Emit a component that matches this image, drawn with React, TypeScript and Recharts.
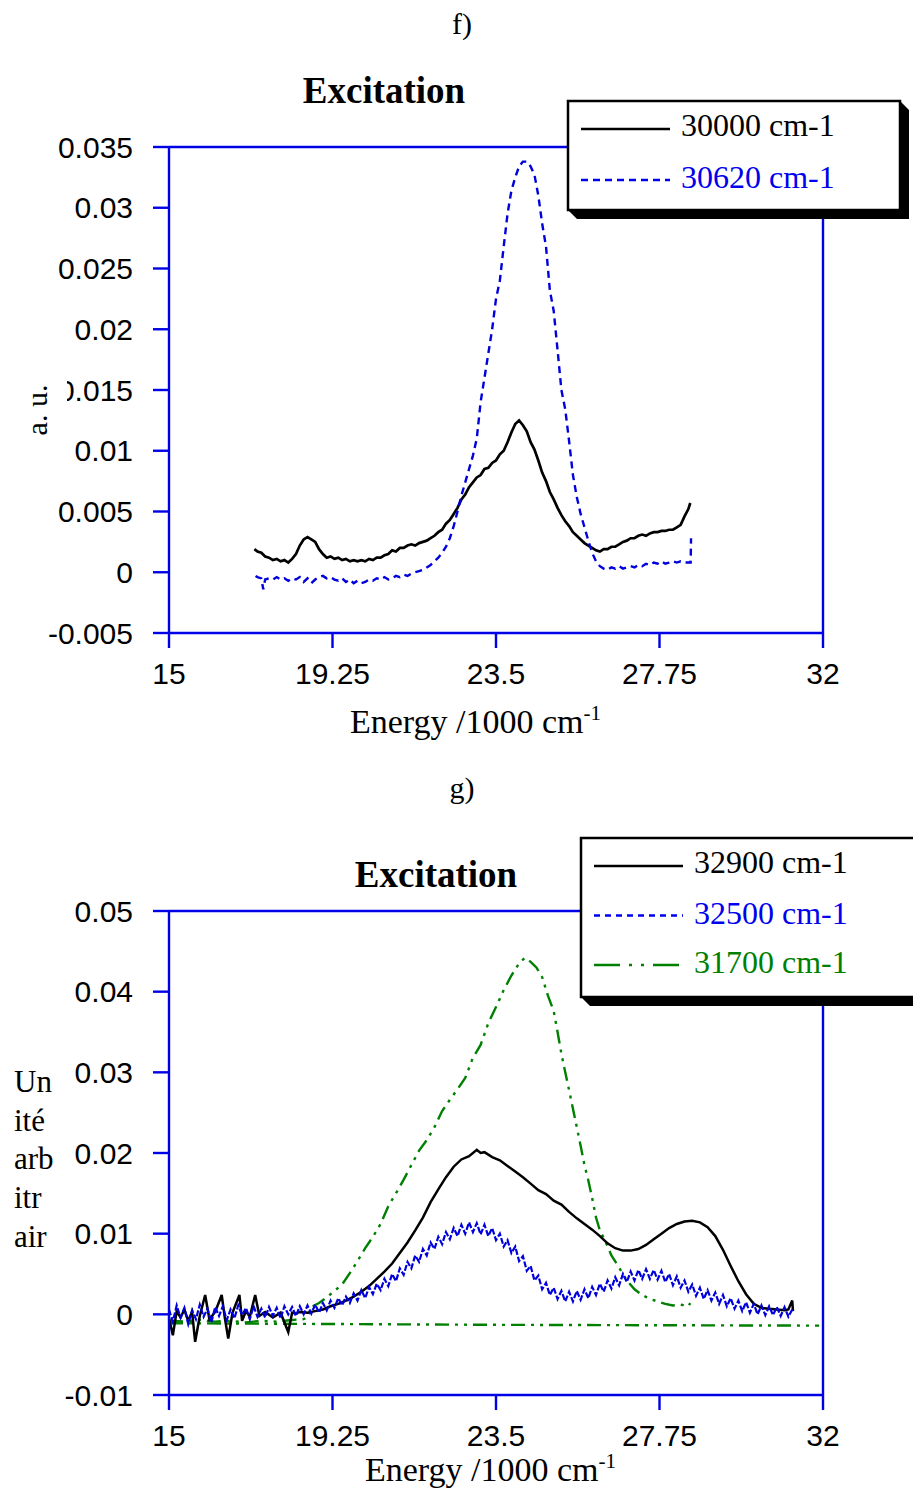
import { LineChart, Line, XAxis, YAxis, Legend } from 'recharts';

// energy axis, 1000 cm-1
const energyTicks = [15, 19.25, 23.5, 27.75, 32];
const fTicks = [-0.005, 0, 0.005, 0.01, 0.015, 0.02, 0.025, 0.03, 0.035];
const gTicks = [-0.01, 0, 0.01, 0.02, 0.03, 0.04, 0.05];

const fNames = ['30000 cm-1', '30620 cm-1'];
const gNames = ['32900 cm-1', '32500 cm-1', '31700 cm-1'];

// panel f) 30000 cm-1
const f30000E = [
  17.22, 17.3, 17.4, 17.5, 17.6, 17.7, 17.8, 17.9, 18.0, 18.1, 18.2, 18.3, 18.4, 18.5, 18.6, 18.7, 18.8, 18.9,
  19.0, 19.1, 19.2, 19.3, 19.4, 19.5, 19.6, 19.7, 19.8, 19.9, 20.0, 20.1, 20.2, 20.3, 20.4, 20.5, 20.6, 20.7,
  20.8, 20.9, 21.0, 21.1, 21.2, 21.3, 21.4, 21.5, 21.6, 21.7, 21.8, 21.9, 22.0, 22.1, 22.2, 22.3, 22.4, 22.5,
  22.6, 22.7, 22.8, 22.9, 23.0, 23.1, 23.2, 23.3, 23.4, 23.5, 23.6, 23.7, 23.8, 23.9, 24.0, 24.1, 24.2, 24.3,
  24.4, 24.5, 24.6, 24.7, 24.8, 24.9, 25.0, 25.1, 25.2, 25.3, 25.4, 25.5, 25.6, 25.7, 25.8, 25.9, 26.0, 26.1,
  26.2, 26.3, 26.4, 26.5, 26.6, 26.7, 26.8, 26.9, 27.0, 27.1, 27.2, 27.3, 27.4, 27.5, 27.6, 27.7, 27.8, 27.9,
  28.0, 28.1, 28.2, 28.3, 28.4, 28.5, 28.55,
];
const f30000V = [
  0.0019, 0.0017, 0.0016, 0.0013, 0.0012, 0.0010, 0.0011, 0.0009, 0.0010, 0.0008, 0.0011, 0.0015, 0.0022, 0.0027, 0.0029, 0.0027, 0.0025, 0.0019,
  0.0015, 0.0012, 0.0013, 0.0011, 0.0012, 0.0010, 0.0011, 0.0009, 0.0010, 0.0009, 0.0010, 0.0009, 0.0011, 0.0010, 0.0012, 0.0012, 0.0014, 0.0015,
  0.0018, 0.0017, 0.0020, 0.0020, 0.0022, 0.0023, 0.0022, 0.0024, 0.0025, 0.0026, 0.0028, 0.0030, 0.0033, 0.0035, 0.0040, 0.0043, 0.0048, 0.0053,
  0.0060, 0.0064, 0.0070, 0.0074, 0.0078, 0.0080, 0.0085, 0.0086, 0.0090, 0.0092, 0.0097, 0.0100, 0.0107, 0.0115, 0.0122, 0.0125, 0.0121, 0.0116,
  0.0107, 0.0101, 0.0092, 0.0082, 0.0075, 0.0066, 0.0060, 0.0053, 0.0047, 0.0042, 0.0038, 0.0033, 0.0030, 0.0027, 0.0024, 0.0022, 0.0020, 0.0018,
  0.0017, 0.0019, 0.0019, 0.0021, 0.0021, 0.0023, 0.0025, 0.0026, 0.0028, 0.0028, 0.0030, 0.0031, 0.0030, 0.0032, 0.0033, 0.0033, 0.0034, 0.0034,
  0.0035, 0.0035, 0.0037, 0.0039, 0.0046, 0.0052, 0.0057,
];

// panel f) 30620 cm-1
const f30620E = [
  17.25, 17.3, 17.4, 17.45, 17.5, 17.6, 17.7, 17.8, 17.9, 18.0, 18.1, 18.2, 18.3, 18.4, 18.5, 18.6, 18.7, 18.8,
  18.9, 19.0, 19.1, 19.2, 19.3, 19.4, 19.5, 19.6, 19.7, 19.8, 19.9, 20.0, 20.1, 20.2, 20.3, 20.4, 20.5, 20.6,
  20.7, 20.8, 20.9, 21.0, 21.1, 21.2, 21.3, 21.4, 21.5, 21.6, 21.7, 21.8, 21.9, 22.0, 22.1, 22.2, 22.3, 22.4,
  22.5, 22.6, 22.7, 22.8, 22.9, 23.0, 23.1, 23.2, 23.3, 23.4, 23.5, 23.6, 23.7, 23.8, 23.9, 24.0, 24.1, 24.2,
  24.3, 24.4, 24.5, 24.6, 24.7, 24.8, 24.9, 25.0, 25.1, 25.2, 25.3, 25.4, 25.5, 25.6, 25.7, 25.8, 25.9, 26.0,
  26.1, 26.2, 26.3, 26.4, 26.5, 26.6, 26.7, 26.8, 26.9, 27.0, 27.1, 27.2, 27.3, 27.4, 27.5, 27.6, 27.7, 27.8,
  27.9, 28.0, 28.1, 28.2, 28.3, 28.4, 28.5, 28.56, 28.57,
];
const f30620V = [
  -0.0003, -0.0004, -0.0005, -0.0014, -0.0006, -0.0005, -0.0006, -0.0004, -0.0006, -0.0005, -0.0007, -0.0005, -0.0006, -0.0004, -0.0008, -0.0005, -0.0009, -0.0006,
  -0.0004, -0.0003, -0.0005, -0.0004, -0.0006, -0.0007, -0.0005, -0.0008, -0.0006, -0.0009, -0.0007, -0.0009, -0.0008, -0.0006, -0.0007, -0.0005, -0.0006, -0.0004,
  -0.0006, -0.0005, -0.0003, -0.0004, -0.0002, -0.0003, -0.0001, 0.0000, 0.0001, 0.0002, 0.0004, 0.0006, 0.0009, 0.0012, 0.0016, 0.0021, 0.0028, 0.0038,
  0.0050, 0.0063, 0.0074, 0.0085, 0.0096, 0.0110, 0.0140, 0.0160, 0.0180, 0.0200, 0.0225, 0.0240, 0.0268, 0.0295, 0.0314, 0.0325, 0.0334, 0.0338,
  0.0338, 0.0334, 0.0327, 0.0310, 0.0287, 0.0268, 0.0232, 0.0215, 0.0183, 0.0150, 0.0134, 0.0108, 0.0080, 0.0062, 0.0048, 0.0037, 0.0026, 0.0016,
  0.0009, 0.0005, 0.0003, 0.0002, 0.0004, 0.0003, 0.0005, 0.0003, 0.0004, 0.0005, 0.0004, 0.0006, 0.0005, 0.0007, 0.0006, 0.0008, 0.0007, 0.0009,
  0.0007, 0.0008, 0.0009, 0.0008, 0.0009, 0.0008, 0.0008, 0.0008, 0.0028,
];

// panel g) 32900 cm-1
const g32900E = [
  15.0, 15.1, 15.2, 15.3, 15.4, 15.5, 15.6, 15.68, 15.8, 15.94, 16.05, 16.2, 16.37, 16.45, 16.54, 16.65, 16.83, 16.9,
  17.0, 17.1, 17.24, 17.35, 17.5, 17.7, 17.9, 18.1, 18.2, 18.3, 18.4, 18.6, 18.8, 19.0, 19.2, 19.4, 19.6, 19.8,
  20.0, 20.2, 20.4, 20.6, 20.8, 21.0, 21.2, 21.4, 21.6, 21.8, 22.0, 22.2, 22.4, 22.6, 22.8, 23.0, 23.1, 23.2,
  23.4, 23.6, 23.8, 24.0, 24.2, 24.4, 24.6, 24.8, 25.0, 25.2, 25.4, 25.6, 25.8, 26.0, 26.2, 26.4, 26.6, 26.8,
  27.0, 27.2, 27.4, 27.6, 27.8, 28.0, 28.2, 28.4, 28.6, 28.8, 29.0, 29.2, 29.4, 29.6, 29.8, 30.0, 30.2, 30.4,
  30.6, 30.8, 31.0, 31.1, 31.2, 31.22,
];
const g32900V = [
  -0.0005, -0.0026, 0.0004, -0.0004, 0.0006, -0.0008, 0.0003, -0.0034, -0.0002, 0.0024, -0.0006, 0.0003, 0.0024, -0.0004, -0.0030, 0.0002, 0.0024, -0.0008,
  0.0004, -0.0003, 0.0024, -0.0002, 0.0003, -0.0004, 0.0002, -0.0022, 0.0002, 0.0001, 0.0003, 0.0002, 0.0004, 0.0006, 0.0010, 0.0013, 0.0017, 0.0022,
  0.0028, 0.0035, 0.0044, 0.0053, 0.0063, 0.0076, 0.0089, 0.0104, 0.0120, 0.0139, 0.0155, 0.0170, 0.0183, 0.0192, 0.0196, 0.0204, 0.0200, 0.0201,
  0.0195, 0.0191, 0.0184, 0.0177, 0.0170, 0.0162, 0.0154, 0.0149, 0.0141, 0.0136, 0.0127, 0.0119, 0.0112, 0.0105, 0.0097, 0.0088, 0.0082, 0.0079,
  0.0079, 0.0081, 0.0086, 0.0093, 0.0100, 0.0107, 0.0112, 0.0115, 0.0116, 0.0114, 0.0108, 0.0097, 0.0080, 0.0060, 0.0041, 0.0025, 0.0013, 0.0008,
  0.0007, 0.0006, 0.0005, 0.0006, 0.0017, 0.0004,
];

// panel g) 32500 cm-1
const g32500E = [
  15.0, 15.1, 15.2, 15.3, 15.4, 15.5, 15.6, 15.7, 15.8, 15.9, 16.0, 16.1, 16.2, 16.3, 16.4, 16.5, 16.6, 16.7,
  16.8, 16.9, 17.0, 17.1, 17.2, 17.3, 17.4, 17.5, 17.6, 17.7, 17.8, 17.9, 18.0, 18.1, 18.2, 18.3, 18.4, 18.5,
  18.6, 18.7, 18.8, 18.9, 19.0, 19.1, 19.2, 19.3, 19.4, 19.5, 19.6, 19.7, 19.8, 19.9, 20.0, 20.1, 20.2, 20.3,
  20.4, 20.5, 20.6, 20.7, 20.8, 20.9, 21.0, 21.1, 21.2, 21.3, 21.4, 21.5, 21.6, 21.7, 21.8, 21.9, 22.0, 22.1,
  22.2, 22.3, 22.4, 22.5, 22.6, 22.7, 22.8, 22.9, 23.0, 23.1, 23.2, 23.3, 23.4, 23.5, 23.6, 23.7, 23.8, 23.9,
  24.0, 24.1, 24.2, 24.3, 24.4, 24.5, 24.6, 24.7, 24.8, 24.9, 25.0, 25.1, 25.2, 25.3, 25.4, 25.5, 25.6, 25.7,
  25.8, 25.9, 26.0, 26.1, 26.2, 26.3, 26.4, 26.5, 26.6, 26.7, 26.8, 26.9, 27.0, 27.1, 27.2, 27.3, 27.4, 27.5,
  27.6, 27.7, 27.8, 27.9, 28.0, 28.1, 28.2, 28.3, 28.4, 28.5, 28.6, 28.7, 28.8, 28.9, 29.0, 29.1, 29.2, 29.3,
  29.4, 29.5, 29.6, 29.7, 29.8, 29.9, 30.0, 30.1, 30.2, 30.3, 30.4, 30.5, 30.6, 30.7, 30.8, 30.9, 31.0, 31.1,
  31.2,
];
const g32500V = [
  0.0006, -0.0009, 0.0011, -0.0004, 0.0008, -0.0012, 0.0005, -0.0006, 0.0012, -0.0003, 0.0007, -0.0010, 0.0009, -0.0002, 0.0010, -0.0007, 0.0006, -0.0005,
  0.0011, -0.0001, 0.0008, -0.0006, 0.0010, -0.0003, 0.0007, -0.0004, 0.0009, -0.0002, 0.0008, -0.0005, 0.0010, 0.0000, 0.0009, -0.0002, 0.0010, 0.0000,
  0.0011, 0.0001, 0.0012, 0.0002, 0.0014, 0.0005, 0.0017, 0.0008, 0.0020, 0.0011, 0.0022, 0.0014, 0.0026, 0.0017, 0.0030, 0.0020, 0.0034, 0.0025,
  0.0038, 0.0030, 0.0044, 0.0035, 0.0050, 0.0041, 0.0057, 0.0049, 0.0065, 0.0057, 0.0073, 0.0065, 0.0081, 0.0073, 0.0089, 0.0081, 0.0096, 0.0087,
  0.0102, 0.0093, 0.0107, 0.0097, 0.0111, 0.0100, 0.0114, 0.0102, 0.0113, 0.0099, 0.0111, 0.0097, 0.0107, 0.0092, 0.0100, 0.0084, 0.0092, 0.0076,
  0.0084, 0.0066, 0.0072, 0.0054, 0.0060, 0.0042, 0.0048, 0.0031, 0.0039, 0.0024, 0.0033, 0.0019, 0.0029, 0.0016, 0.0028, 0.0016, 0.0029, 0.0018,
  0.0031, 0.0020, 0.0034, 0.0024, 0.0038, 0.0028, 0.0042, 0.0032, 0.0046, 0.0036, 0.0050, 0.0040, 0.0053, 0.0042, 0.0055, 0.0044, 0.0056, 0.0044,
  0.0055, 0.0043, 0.0054, 0.0040, 0.0050, 0.0036, 0.0047, 0.0033, 0.0042, 0.0028, 0.0037, 0.0023, 0.0033, 0.0019, 0.0030, 0.0017, 0.0027, 0.0013,
  0.0024, 0.0010, 0.0020, 0.0007, 0.0017, 0.0004, 0.0015, 0.0002, 0.0013, 0.0000, 0.0011, -0.0001, 0.0010, -0.0001, 0.0009, -0.0002, 0.0009, -0.0003,
  0.0006,
];

// panel g) 31700 cm-1
const g31700E = [
  15.0, 15.4, 15.8, 16.2, 16.6, 17.0, 17.4, 17.8, 18.2, 18.5, 18.6, 18.7, 18.9, 19.1, 19.3, 19.5, 19.7, 19.9,
  20.1, 20.3, 20.5, 20.7, 20.9, 21.1, 21.3, 21.5, 21.7, 21.9, 22.1, 22.3, 22.5, 22.7, 22.9, 23.1, 23.3, 23.5,
  23.7, 23.9, 24.1, 24.25, 24.4, 24.55, 24.7, 24.85, 25.0, 25.1, 25.2, 25.3, 25.4, 25.5, 25.6, 25.7, 25.8, 25.9,
  26.0, 26.1, 26.2, 26.35, 26.5, 26.7, 26.9, 27.1, 27.3, 27.5, 27.7, 27.9, 28.1, 28.3, 28.5, 28.55,
];
const g31700V = [
  -0.0008, -0.0009, -0.0007, -0.0009, -0.0008, -0.0010, -0.0008, -0.0009, -0.0007, -0.0006, -0.0004, 0.0009, 0.0014, 0.0021, 0.0029, 0.0037, 0.0051, 0.0066,
  0.0082, 0.0096, 0.0112, 0.0134, 0.0150, 0.0167, 0.0185, 0.0203, 0.0216, 0.0232, 0.0252, 0.0266, 0.0279, 0.0293, 0.0318, 0.0334, 0.0361, 0.0381,
  0.0402, 0.0420, 0.0435, 0.0442, 0.0437, 0.0430, 0.0418, 0.0395, 0.0376, 0.0350, 0.0323, 0.0300, 0.0278, 0.0255, 0.0232, 0.0209, 0.0185, 0.0166,
  0.0144, 0.0120, 0.0104, 0.0090, 0.0073, 0.0058, 0.0042, 0.0031, 0.0024, 0.0019, 0.0016, 0.0013, 0.0011, 0.0012, 0.0010, 0.0014,
];
const g31700BaseE = [15.0, 23.5, 31.9];
const g31700BaseV = [-0.0011, -0.0013, -0.0014];

const pts = (e: number[], v: number[]) => e.map((x, i) => ({ x, y: v[i] }));

const AXIS = '#0000e6';
const BLUE = '#0000dd';
const GREEN = '#008000';
const SANS = "'Liberation Sans', Arial, sans-serif";
const SERIF = "'Liberation Serif', 'Times New Roman', serif";

const axisStyle = { stroke: AXIS, strokeWidth: 2.4 };
const tickText = { fill: '#000', fontSize: 30, fontFamily: SANS };
const blank = () => '';

function frameAxes(yTicks: number[], yDomain: [number, number]) {
  return [
    <XAxis key="xb" xAxisId="b" type="number" dataKey="x" domain={[15, 32]} ticks={energyTicks} interval={0}
      height={60} tickSize={15} tickMargin={15} axisLine={axisStyle} tickLine={axisStyle} tick={tickText} />,
    <XAxis key="xt" xAxisId="t" orientation="top" type="number" dataKey="x" domain={[15, 32]} ticks={energyTicks}
      interval={0} height={20} tickSize={16} axisLine={axisStyle} tickLine={axisStyle} tickFormatter={blank} />,
    <YAxis key="yl" yAxisId="l" type="number" dataKey="y" domain={yDomain} ticks={yTicks} interval={0}
      width={60} tickSize={16} tickMargin={20} axisLine={axisStyle} tickLine={axisStyle} tick={tickText} />,
    <YAxis key="yr" yAxisId="r" orientation="right" type="number" dataKey="y" domain={yDomain} ticks={yTicks}
      interval={0} width={20} tickSize={16} axisLine={axisStyle} tickLine={axisStyle} tickFormatter={blank} />,
  ];
}

type Entry = { name: string; color: string; dash?: string };

function legendBox(entries: Entry[], w: number, h: number, rowGap: number) {
  return () => (
    <svg width={w + 12} height={h + 12} style={{ display: 'block', overflow: 'visible' }}>
      <polygon points={`${w},1 ${w + 9},10 ${w + 9},${h + 9} 10,${h + 9} 1,${h}`} fill="#000" />
      <rect x={1} y={1} width={w - 1} height={h - 1} fill="#fff" stroke="#000" strokeWidth={2.5} />
      {entries.map((e, i) => (
        <g key={e.name}>
          <line x1={14} x2={103} y1={29 + i * rowGap} y2={29 + i * rowGap} stroke={e.color} strokeWidth={2.6}
            strokeDasharray={e.dash} />
          <text x={114} y={36 + i * rowGap + (i > 0 ? 1 : 0)} fill={e.color} fontSize={32} fontFamily={SERIF}>
            {e.name}
          </text>
        </g>
      ))}
    </svg>
  );
}

const fLegend: Entry[] = [
  { name: fNames[0], color: '#000' },
  { name: fNames[1], color: '#0000ee', dash: '7 5' },
];
const gLegend: Entry[] = [
  { name: gNames[0], color: '#000' },
  { name: gNames[1], color: '#0000ee', dash: '6 5' },
  { name: gNames[2], color: GREEN, dash: '26 9 3 9 3 9' },
];

export default function App() {
  return (
    <div style={{ position: 'absolute', left: 0, top: 0, width: 913, height: 1495, overflow: 'hidden', background: '#fff' }}>
      <div style={{ position: 'absolute', left: 0, top: 0 }}>
        <LineChart width={913} height={760} margin={{ top: 127, right: 70, bottom: 67, left: 109 }}>
          {frameAxes(fTicks, [-0.005, 0.035])}
          <Line xAxisId="b" yAxisId="l" data={pts(f30000E, f30000V)} dataKey="y" type="linear" stroke="#000"
            strokeWidth={2.7} dot={false} activeDot={false} isAnimationActive={false} />
          <Line xAxisId="b" yAxisId="l" data={pts(f30620E, f30620V)} dataKey="y" type="linear" stroke={BLUE}
            strokeWidth={2.4} strokeDasharray="7 5" dot={false} activeDot={false} isAnimationActive={false} />
          <Legend layout="horizontal" verticalAlign="middle" align="center" content={legendBox(fLegend, 333, 110, 51)}
            wrapperStyle={{ position: 'absolute', left: 567, top: 100, width: 345, height: 122 }} />
        </LineChart>
      </div>
      <div style={{ position: 'absolute', left: 0, top: 760 }}>
        <LineChart width={913} height={735} margin={{ top: 131, right: 70, bottom: 40, left: 109 }}>
          {frameAxes(gTicks, [-0.01, 0.05])}
          <Line xAxisId="b" yAxisId="l" data={pts(g31700BaseE, g31700BaseV)} dataKey="y" type="linear" stroke={GREEN}
            strokeWidth={2.4} strokeDasharray="14 6 3 6 3 6" dot={false} activeDot={false} isAnimationActive={false} />
          <Line xAxisId="b" yAxisId="l" data={pts(g31700E, g31700V)} dataKey="y" type="linear" stroke={GREEN}
            strokeWidth={2.4} strokeDasharray="14 6 3 6 3 6" dot={false} activeDot={false} isAnimationActive={false} />
          <Line xAxisId="b" yAxisId="l" data={pts(g32900E, g32900V)} dataKey="y" type="linear" stroke="#000"
            strokeWidth={2.5} dot={false} activeDot={false} isAnimationActive={false} />
          <Line xAxisId="b" yAxisId="l" data={pts(g32500E, g32500V)} dataKey="y" type="linear" stroke={BLUE}
            strokeWidth={2.2} strokeDasharray="6 2" dot={false} activeDot={false} isAnimationActive={false} />
          <Legend layout="horizontal" verticalAlign="middle" align="center" content={legendBox(gLegend, 345, 160, 49.5)}
            wrapperStyle={{ position: 'absolute', left: 580, top: 77, width: 360, height: 172 }} />
        </LineChart>
      </div>
      <svg width={913} height={1495} style={{ position: 'absolute', left: 0, top: 0, pointerEvents: 'none' }}>
        <text x={462} y={34} textAnchor="middle" fontSize={30} fontFamily={SERIF}>f)</text>
        <text x={384} y={103} textAnchor="middle" fontSize={37} fontWeight="bold" fontFamily={SERIF}>Excitation</text>
        <rect x={20} y={376} width={47} height={66} fill="#fff" />
        <text transform="translate(47,410) rotate(-90)" textAnchor="middle" fontSize={30} fontFamily={SERIF}>a. u.</text>
        <text x={350} y={733} fontSize={34} fontFamily={SERIF}>
          Energy /1000 cm<tspan dy={-13} fontSize={21}>-1</tspan>
        </text>

        <text x={462} y={798} textAnchor="middle" fontSize={30} fontFamily={SERIF}>g)</text>
        <text x={436} y={887} textAnchor="middle" fontSize={37} fontWeight="bold" fontFamily={SERIF}>Excitation</text>
        {['Un', 'ité', 'arb', 'itr', 'air'].map((s, i) => (
          <text key={s} x={14} y={1092 + i * 38.7} fontSize={31} fontFamily={SERIF}>{s}</text>
        ))}
        <text x={365} y={1481} fontSize={34} fontFamily={SERIF}>
          Energy /1000 cm<tspan dy={-13} fontSize={21}>-1</tspan>
        </text>
      </svg>
    </div>
  );
}
